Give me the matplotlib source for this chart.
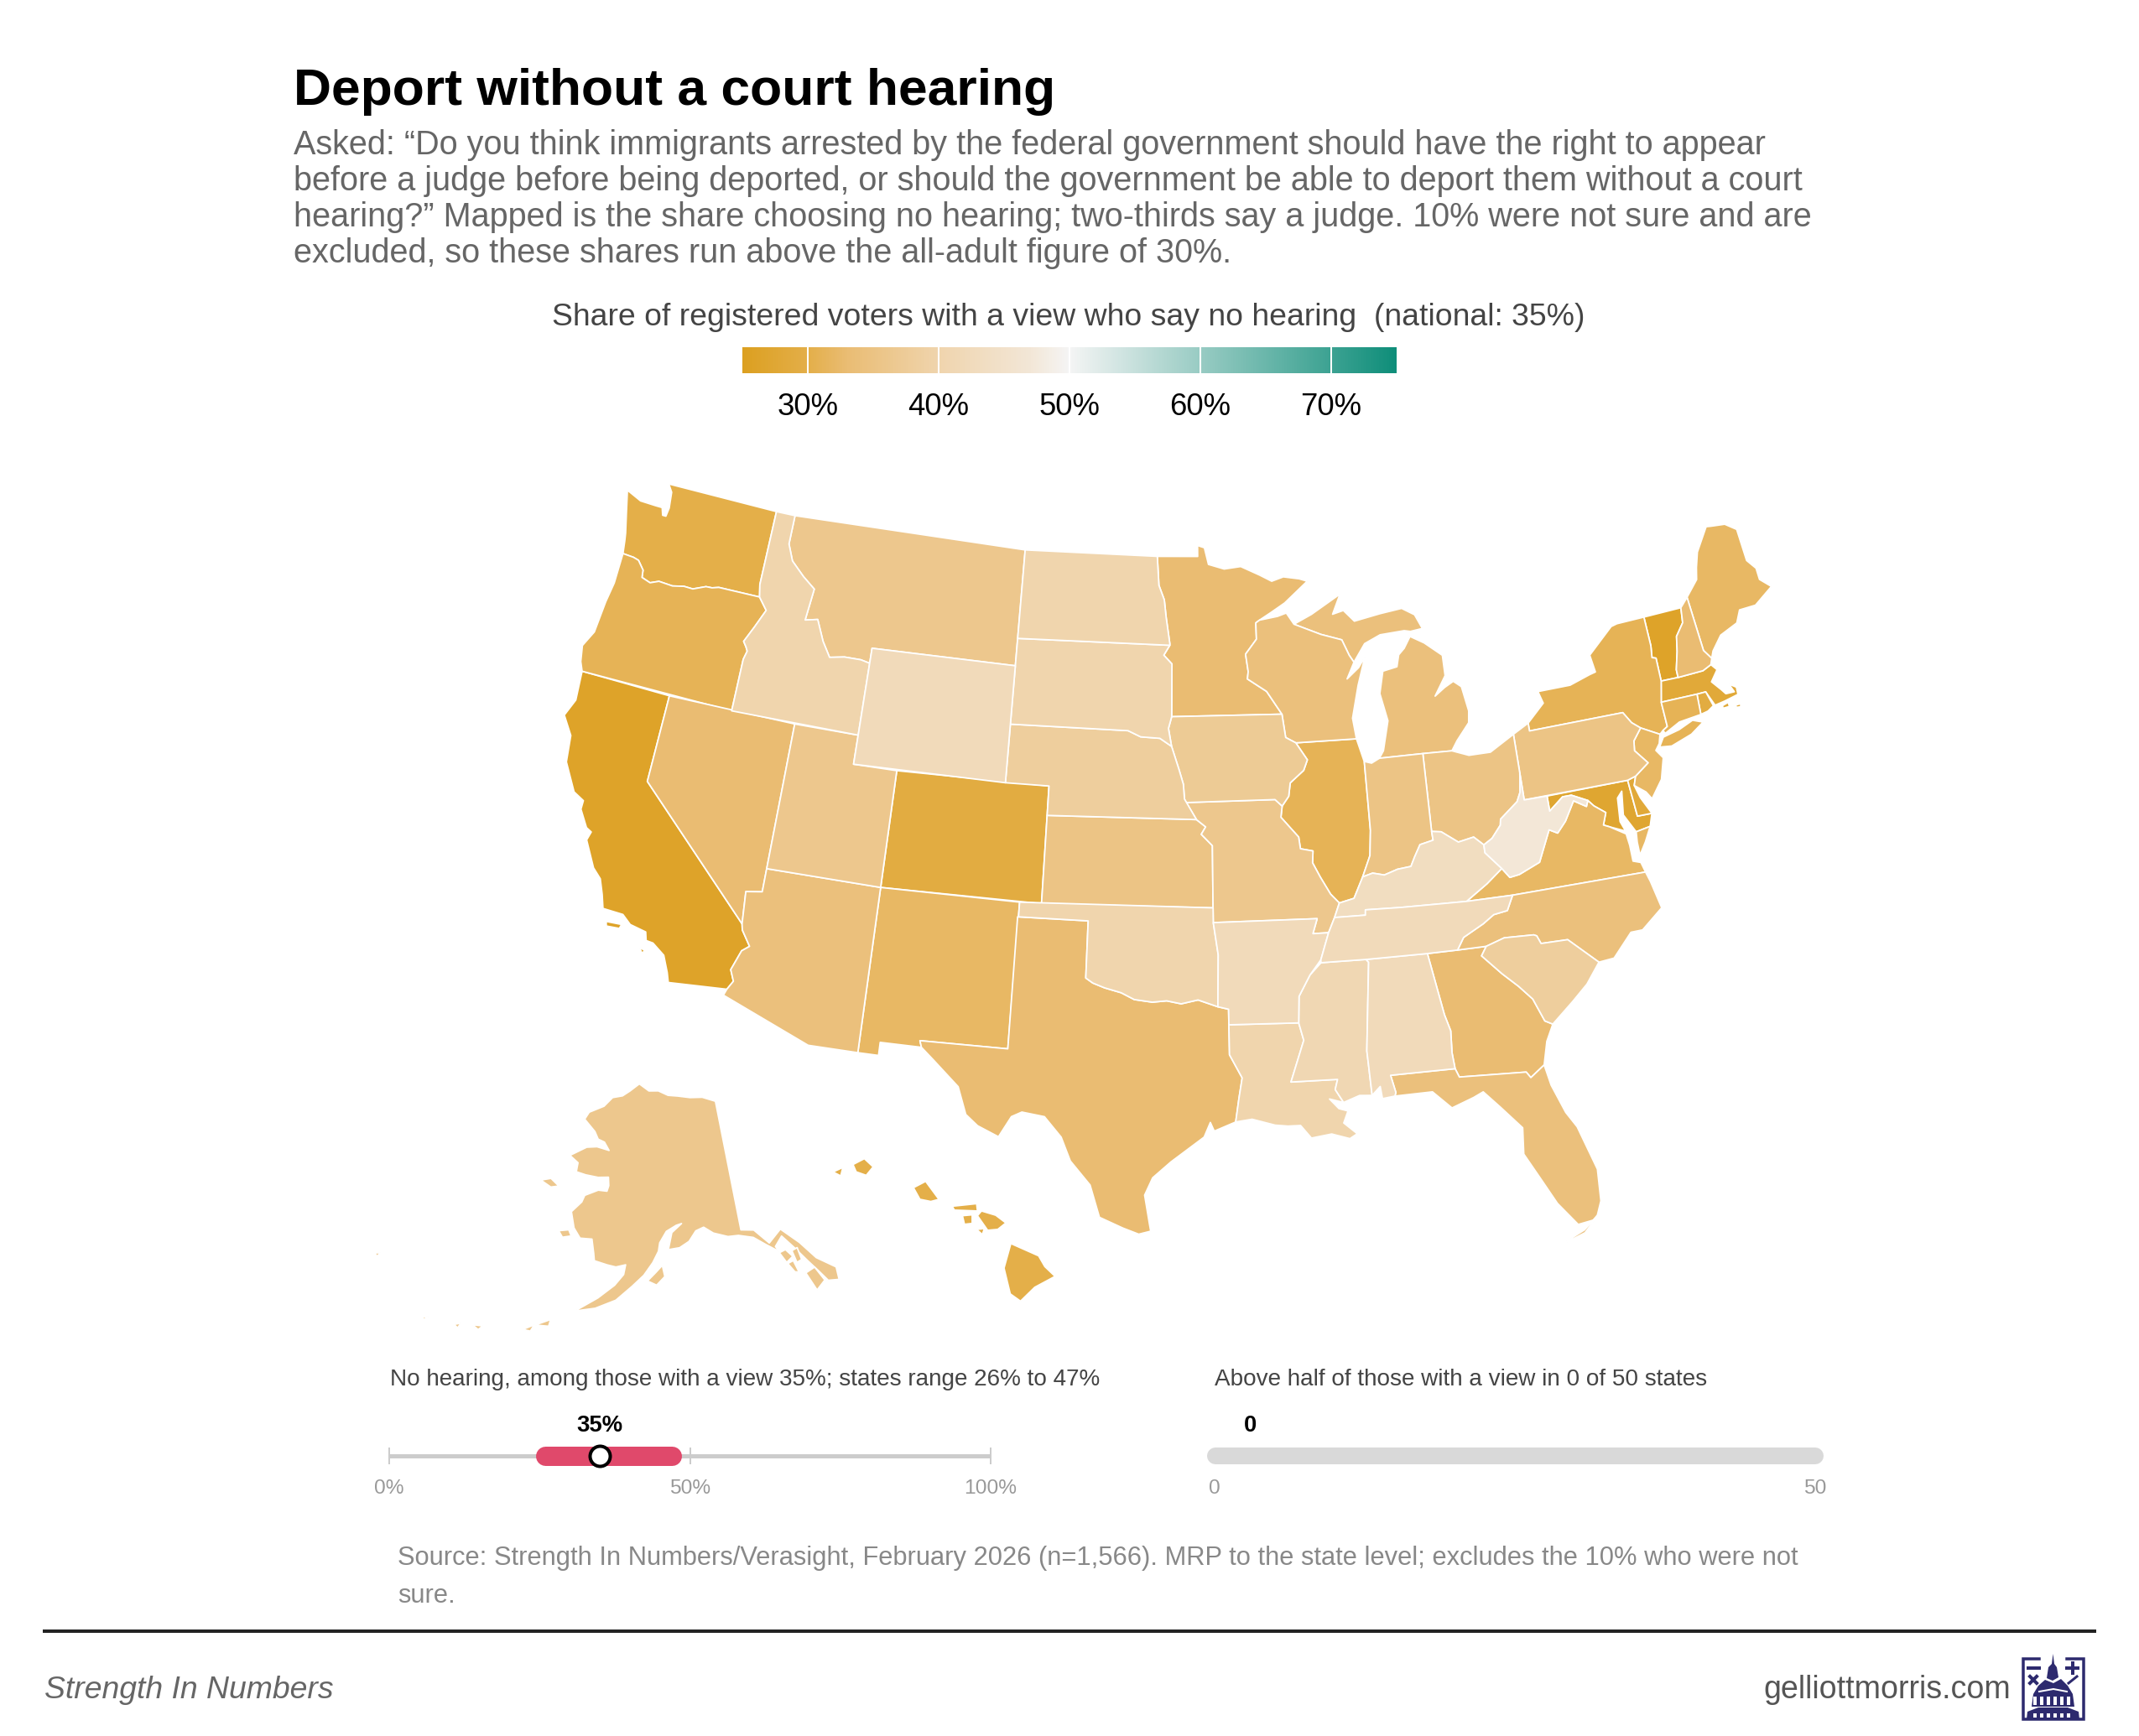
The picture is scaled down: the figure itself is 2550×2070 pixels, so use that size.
import numpy as np
import matplotlib
matplotlib.use("Agg")
import matplotlib.pyplot as plt
from matplotlib.colors import LinearSegmentedColormap, Normalize
from matplotlib.patches import Polygon, Rectangle

plt.rcParams["font.family"] = ["Liberation Sans", "DejaVu Sans"]

# state shares, % saying no hearing
state_codes = ["CA","VT","MD","MA","CO","WA","HI","RI","DE","OR","IL","NY","NM","ME","CT","NJ","VA",
               "MN","NV","TX","GA","MI","NH","NC","WI","AZ","FL","PA","OH","IN","KS","MO","UT","MT",
               "AK","IA","SC","NE","ID","SD","LA","ND","OK","MS","WY","AR","AL","KY","TN","WV"]
state_shares = [26,26,27,28,29,30,30,29,28,31,31,31,32,32,31,32,32,
                33,33,33,33,34,33,34,34,34,34,35,35,35,35,36,36,36,
                36,37,38,38,40,40,40,40,40,41,42,42,42,43,42,47]

# outlines, lon/lat
WA = [(-124.7,48.38),(-123.9,48.16),(-123.1,48.15),(-122.75,48.15),(-122.62,47.9),(-122.45,47.9),(-122.4,48.2),(-122.5,48.75),(-122.76,49),(-117.03,49),(-117.04,46.42),(-116.92,46),(-118.98,46),(-119.3,45.93),(-119.6,45.92),(-120.2,45.73),(-120.65,45.74),(-121.2,45.65),(-121.9,45.68),(-122.3,45.55),(-122.75,45.65),(-122.8,45.9),(-123.15,46.18),(-123.43,46.23),(-123.98,46.25),(-124.08,46.7),(-124.15,46.95),(-124.4,47.6)]
OR = [(-123.98,46.25),(-123.43,46.23),(-123.15,46.18),(-122.8,45.9),(-122.75,45.65),(-122.3,45.55),(-121.9,45.68),(-121.2,45.65),(-120.65,45.74),(-120.2,45.73),(-119.6,45.92),(-119.3,45.93),(-118.98,46),(-116.92,46),(-116.46,45.6),(-116.85,44.95),(-117.2,44.4),(-117.03,44.23),(-116.93,44.1),(-117.03,43.8),(-117.03,42),(-124.21,42),(-124.4,42.3),(-124.55,42.84),(-124.2,43.4),(-124.1,44.5),(-123.97,45.2)]
CA = [(-124.21,42),(-120,42),(-120,39),(-114.63,35),(-114.57,34.8),(-114.14,34.3),(-114.43,34.1),(-114.72,33.4),(-114.52,33.03),(-114.72,32.72),(-117.12,32.53),(-117.25,32.85),(-117.55,33.4),(-118.1,33.72),(-118.4,33.75),(-118.5,34.03),(-119.2,34.15),(-119.6,34.42),(-120.47,34.45),(-120.65,34.9),(-120.9,35.4),(-121.3,35.7),(-121.9,36.55),(-121.8,36.85),(-122.05,36.95),(-122.5,37.5),(-122.5,37.8),(-123,38),(-123.7,38.9),(-123.85,39.8),(-124.4,40.4),(-124.1,41)]
CA_ISLANDS = [[(-120.2,34.05),(-119.55,34.08),(-119.6,33.93),(-120.15,33.9)],[(-118.6,33.48),(-118.35,33.4),(-118.45,33.3)]]
NV = [(-120,42),(-114.04,42),(-114.05,36.2),(-114.74,36.1),(-114.63,35),(-120,39)]
ID = [(-117.03,49),(-116.05,49),(-116.05,48),(-115.7,47.45),(-115,47),(-114.35,46.65),(-114.5,45.55),(-113.9,45.65),(-113.45,44.95),(-113,44.45),(-112.3,44.55),(-111.5,44.55),(-111.05,44.48),(-111.05,42),(-117.03,42),(-117.03,43.8),(-116.93,44.1),(-117.03,44.23),(-117.2,44.4),(-116.85,44.95),(-116.46,45.6),(-116.92,46),(-117.04,46.42)]
MT = [(-116.05,49),(-104.05,49),(-104.05,45),(-111.05,45),(-111.05,44.48),(-111.5,44.55),(-112.3,44.55),(-113,44.45),(-113.45,44.95),(-113.9,45.65),(-114.5,45.55),(-114.35,46.65),(-115,47),(-115.7,47.45),(-116.05,48)]
WY = [(-111.05,45),(-104.05,45),(-104.05,41),(-111.05,41)]
UT = [(-114.04,42),(-111.05,42),(-111.05,41),(-109.05,41),(-109.05,37),(-114.05,37)]
AZ = [(-114.05,37),(-109.05,37),(-109.05,31.33),(-111.07,31.33),(-114.81,32.5),(-114.72,32.72),(-114.52,33.03),(-114.72,33.4),(-114.43,34.1),(-114.14,34.3),(-114.57,34.8),(-114.63,35),(-114.74,36.1),(-114.05,36.2)]
CO = [(-109.05,41),(-102.05,41),(-102.05,37),(-109.05,37)]
NM = [(-109.05,37),(-103,37),(-103.04,32),(-106.62,32),(-106.53,31.78),(-108.21,31.78),(-108.21,31.33),(-109.05,31.33)]
ND = [(-104.05,49),(-97.23,49),(-97.13,48),(-96.85,47.5),(-96.75,46.9),(-96.56,46),(-96.56,45.94),(-104.05,45.94)]
SD = [(-104.05,45.94),(-96.56,45.94),(-96.85,45.6),(-96.45,45.3),(-96.45,43.5),(-96.6,43.1),(-96.45,42.49),(-97,42.76),(-97.9,42.8),(-98.5,43),(-104.05,43)]
NE = [(-104.05,43),(-98.5,43),(-97.9,42.8),(-97,42.76),(-96.45,42.49),(-96.1,41.7),(-95.9,41.2),(-95.85,40.7),(-95.31,40),(-102.05,40),(-102.05,41),(-104.05,41)]
KS = [(-102.05,40),(-95.31,40),(-94.9,39.75),(-95.1,39.5),(-94.61,39.11),(-94.62,37),(-102.05,37)]
OK = [(-103,37),(-94.62,37),(-94.62,36.5),(-94.43,35.4),(-94.48,33.64),(-95.3,33.88),(-96,33.75),(-96.6,33.85),(-97.2,33.8),(-97.95,33.88),(-98.5,34.1),(-99.2,34.25),(-99.7,34.4),(-100,34.56),(-100,36.5),(-103,36.5)]
TX = [(-103.04,36.5),(-100,36.5),(-100,34.56),(-99.7,34.4),(-99.2,34.25),(-98.5,34.1),(-97.95,33.88),(-97.2,33.8),(-96.6,33.85),(-96,33.75),(-95.3,33.88),(-94.48,33.64),(-94.04,33.55),(-94.04,33.02),(-94.04,32),(-93.55,31.2),(-93.7,30.5),(-93.85,29.7),(-94.7,29.4),(-94.85,29.7),(-95.1,29.2),(-96.4,28.35),(-97.1,27.8),(-97.4,27.2),(-97.2,26.2),(-97.15,25.96),(-97.6,25.85),(-98.2,26.05),(-99.1,26.4),(-99.5,27.5),(-100.3,28.3),(-100.7,29.1),(-101.4,29.77),(-102.3,29.88),(-102.7,29.7),(-103.15,28.98),(-104,29.3),(-104.5,29.65),(-104.9,30.57),(-106,31.4),(-106.53,31.78),(-106.62,32),(-103.04,32)]
MN = [(-97.23,49),(-95.15,49),(-95.15,49.38),(-94.8,49.3),(-94.6,48.72),(-93.8,48.55),(-92.95,48.62),(-92,48.3),(-91.4,48.07),(-90.8,48.2),(-90,48.1),(-89.6,48),(-90.8,47.3),(-91.5,47),(-92.1,46.75),(-92.29,46.66),(-92.29,46.1),(-92.85,45.6),(-92.75,45),(-92.8,44.75),(-91.9,44.3),(-91.22,43.5),(-96.45,43.5),(-96.45,45.3),(-96.85,45.6),(-96.56,45.94),(-96.56,46),(-96.75,46.9),(-96.85,47.5),(-97.13,48)]
IA = [(-96.45,43.5),(-91.22,43.5),(-91.1,42.7),(-90.64,42.5),(-90.15,41.9),(-90.35,41.55),(-91,41.15),(-91.1,40.7),(-91.42,40.38),(-91.73,40.61),(-95.77,40.58),(-95.85,40.7),(-95.9,41.2),(-96.1,41.7),(-96.45,42.49),(-96.6,43.1)]
MO = [(-95.77,40.58),(-91.73,40.61),(-91.42,40.38),(-91.5,40),(-90.75,39.3),(-90.7,38.9),(-90.15,38.8),(-90.2,38.4),(-89.9,37.9),(-89.5,37.3),(-89.15,36.98),(-89.4,36.5),(-89.7,36),(-90.37,36),(-90.15,36.5),(-94.62,36.5),(-94.62,37),(-94.61,39.11),(-95.1,39.5),(-94.9,39.75),(-95.31,40)]
AR = [(-94.62,36.5),(-90.15,36.5),(-90.37,36),(-89.7,36),(-90.1,35.1),(-90.6,34.6),(-91.1,33.9),(-91.17,33),(-94.04,33.02),(-94.04,33.55),(-94.48,33.64),(-94.43,35.4)]
LA = [(-94.04,33.02),(-91.17,33),(-91,32.4),(-91.6,31),(-89.73,31),(-89.85,30.66),(-89.55,30.2),(-90.1,30.35),(-89.75,30),(-89.4,29.9),(-89.6,29.5),(-89.1,29.1),(-89.4,28.95),(-90.1,29.15),(-90.9,29.05),(-91.3,29.5),(-91.8,29.5),(-92.3,29.55),(-93.2,29.78),(-93.85,29.7),(-93.7,30.5),(-93.55,31.2),(-94.04,32)]
MS = [(-90.1,35),(-88.2,35),(-88.1,34.9),(-88.47,31.9),(-88.4,30.37),(-88.9,30.4),(-89.55,30.2),(-89.85,30.66),(-89.73,31),(-91.6,31),(-91,32.4),(-91.17,33),(-91.1,33.9),(-90.6,34.6)]
AL = [(-88.2,35),(-85.6,35),(-85.18,32.87),(-85,32.3),(-85.05,31.55),(-85,31),(-87.6,31),(-87.45,30.4),(-87.5,30.28),(-88,30.23),(-88.05,30.65),(-88.4,30.37),(-88.47,31.9),(-88.1,34.9)]
TN = [(-90.1,35.1),(-89.7,36),(-89.4,36.5),(-88.07,36.5),(-88.05,36.68),(-86.5,36.65),(-83.68,36.6),(-81.68,36.59),(-82,36.1),(-82.6,36.03),(-83.1,35.77),(-84,35.4),(-84.32,35),(-85.6,35),(-88.2,35),(-90.1,35)]
KY = [(-89.4,36.5),(-89.15,36.98),(-88.5,37.1),(-88.05,37.8),(-87.6,37.9),(-87.1,37.8),(-86.5,37.95),(-85.9,38),(-85.7,38.3),(-85.4,38.7),(-84.8,38.8),(-84.82,39.1),(-84.4,39.05),(-83.7,38.63),(-83,38.73),(-82.6,38.42),(-82.6,38.15),(-81.97,37.54),(-82.7,37.1),(-83.68,36.6),(-86.5,36.65),(-88.05,36.68),(-88.07,36.5)]
IL = [(-90.64,42.5),(-87.8,42.49),(-87.55,41.75),(-87.53,41.7),(-87.53,39.35),(-87.65,38.5),(-88.05,37.8),(-88.5,37.1),(-89.15,36.98),(-89.5,37.3),(-89.9,37.9),(-90.2,38.4),(-90.15,38.8),(-90.7,38.9),(-90.75,39.3),(-91.5,40),(-91.42,40.38),(-91.1,40.7),(-91,41.15),(-90.35,41.55),(-90.15,41.9)]
WI = [(-92.29,46.66),(-92.1,46.75),(-91.2,46.85),(-90.75,46.95),(-90.4,46.55),(-89.1,46.14),(-88.1,45.9),(-87.8,45.35),(-87.6,45.1),(-88,44.55),(-87.4,44.9),(-87.05,45.25),(-87.5,44.3),(-87.9,43.2),(-87.8,42.49),(-90.64,42.5),(-91.1,42.7),(-91.22,43.5),(-91.9,44.3),(-92.8,44.75),(-92.75,45),(-92.85,45.6),(-92.29,46.1)]
MI_LOWER = [(-86.82,41.76),(-84.8,41.76),(-83.45,41.73),(-83.15,42.05),(-82.5,42.6),(-82.42,43),(-82.6,43.85),(-82.95,44.07),(-83.4,43.9),(-83.9,43.65),(-83.3,44.3),(-83.3,45),(-84.1,45.5),(-84.75,45.78),(-85.1,45.4),(-85.4,45.2),(-85.55,44.8),(-86.25,44.7),(-86.5,43.95),(-86.25,43),(-86.6,42)]
MI_UPPER = [(-90.4,46.55),(-89.1,46.14),(-88.1,45.9),(-87.8,45.35),(-87.6,45.1),(-87,45.7),(-86.2,45.95),(-85,46),(-84.7,45.95),(-84.1,46),(-84.4,46.5),(-85,46.77),(-86.1,46.67),(-87.4,46.5),(-87.9,46.9),(-88.45,46.8),(-88,47.47),(-89.5,46.85)]
IN = [(-87.53,41.7),(-87.2,41.62),(-86.82,41.76),(-84.8,41.76),(-84.82,39.1),(-84.8,38.8),(-85.4,38.7),(-85.7,38.3),(-85.9,38),(-86.5,37.95),(-87.1,37.8),(-87.6,37.9),(-88.05,37.8),(-87.65,38.5),(-87.53,39.35)]
OH = [(-84.8,41.76),(-83.45,41.73),(-82.7,41.5),(-81.7,41.5),(-80.52,41.98),(-80.52,40.64),(-80.65,40),(-80.85,39.7),(-81.7,39.2),(-81.75,39),(-82.2,38.6),(-82.6,38.42),(-83,38.73),(-83.7,38.63),(-84.4,39.05),(-84.82,39.1)]
PA = [(-80.52,41.98),(-79.76,42.27),(-79.76,42),(-75.35,42),(-75.05,41.6),(-74.7,41.36),(-75.13,40.98),(-75.2,40.65),(-74.72,40.15),(-75.4,39.8),(-75.79,39.72),(-80.52,39.72),(-80.52,40.64)]
NY = [(-79.76,42.27),(-78.9,42.85),(-79.05,43.27),(-77.5,43.28),(-76.5,43.5),(-76.2,43.55),(-76.3,44.15),(-75,44.95),(-74.7,45),(-73.35,45.01),(-73.35,44),(-73.43,43.6),(-73.25,43.55),(-73.27,42.75),(-73.5,42.05),(-73.49,41.2),(-73.73,41.1),(-73.9,41),(-74.7,41.36),(-75.05,41.6),(-75.35,42),(-79.76,42)]
NY_LONG_ISLAND = [(-74.05,40.58),(-73.78,40.88),(-73,41),(-72.3,41.2),(-71.85,41.05),(-72.5,40.75),(-73.5,40.52)]
VT = [(-73.35,45.01),(-71.5,45.01),(-71.6,44.5),(-72.05,44.1),(-72.2,43.6),(-72.45,43),(-72.46,42.73),(-73.27,42.75),(-73.25,43.55),(-73.43,43.6),(-73.35,44)]
NH = [(-71.5,45.01),(-71.08,45.3),(-70.98,43.4),(-70.7,43.07),(-70.82,42.87),(-71.25,42.74),(-72.46,42.73),(-72.45,43),(-72.2,43.6),(-72.05,44.1),(-71.6,44.5)]
ME = [(-71.08,45.3),(-70.4,45.8),(-70.25,46.2),(-70,46.7),(-69.23,47.46),(-69,47.43),(-68.3,47.36),(-67.8,47.07),(-67.78,45.95),(-67.45,45.6),(-67.45,45.2),(-67,44.85),(-68,44.4),(-68.8,44.4),(-69.1,44),(-70,43.75),(-70.55,43.3),(-70.7,43.07),(-70.98,43.4)]
MA = [(-73.5,42.05),(-73.27,42.75),(-72.46,42.73),(-71.25,42.74),(-70.82,42.87),(-70.6,42.65),(-71,42.3),(-70.65,41.95),(-70.5,41.78),(-70.1,41.77),(-70.25,42.07),(-69.95,41.9),(-69.97,41.65),(-70.65,41.55),(-71.12,41.5),(-71.38,42.02),(-71.8,42.02)]
MA_ISLANDS = [[(-70.8,41.42),(-70.5,41.48),(-70.5,41.33),(-70.8,41.33)],[(-70.2,41.32),(-69.97,41.32),(-70,41.22),(-70.2,41.24)]]
RI = [(-71.8,42.02),(-71.38,42.02),(-71.2,41.5),(-71.5,41.37),(-71.86,41.32)]
CT = [(-73.5,42.05),(-71.8,42.02),(-71.86,41.32),(-72.9,41.25),(-73.65,40.99),(-73.73,41.1),(-73.49,41.2)]
NJ = [(-73.9,41),(-74.7,41.36),(-75.13,40.98),(-75.2,40.65),(-74.72,40.15),(-75.4,39.8),(-75.55,39.5),(-75.1,39.2),(-74.9,38.93),(-74.3,39.5),(-74,40.2),(-74.25,40.5),(-74.03,40.7)]
DE = [(-75.79,39.72),(-75.4,39.8),(-75.55,39.5),(-75.4,39.05),(-75.05,38.45),(-75.7,38.46)]
MD = [(-79.48,39.72),(-75.79,39.72),(-75.7,38.46),(-75.05,38.45),(-75.25,38.03),(-75.9,37.95),(-76.3,38.6),(-76.15,39.4),(-76.4,39.2),(-76.5,38.4),(-76.35,38.05),(-77,38.3),(-77.25,38.4),(-77.04,38.8),(-77.5,39.1),(-77.72,39.32),(-78.4,39.6),(-78.8,39.6),(-79.48,39.2)]
WV = [(-80.52,40.64),(-80.52,39.72),(-79.48,39.72),(-79.48,39.2),(-78.8,39.6),(-78.4,39.6),(-77.72,39.32),(-77.83,39.13),(-78.35,39.4),(-78.87,38.77),(-79.3,38.42),(-79.65,38.58),(-80.3,37.55),(-81.25,37.25),(-81.68,37.2),(-81.97,37.54),(-82.6,38.15),(-82.6,38.42),(-82.2,38.6),(-81.75,39),(-81.7,39.2),(-80.85,39.7),(-80.65,40)]
VA = [(-83.68,36.6),(-82.7,37.1),(-81.97,37.54),(-81.68,37.2),(-81.25,37.25),(-80.3,37.55),(-79.65,38.58),(-79.3,38.42),(-78.87,38.77),(-78.35,39.4),(-77.83,39.13),(-77.72,39.32),(-77.5,39.1),(-77.04,38.8),(-77.25,38.4),(-77,38.3),(-76.35,37.95),(-76.3,37.55),(-76.3,37),(-75.98,36.9),(-75.87,36.55),(-81.68,36.59)]
VA_SHORE = [(-75.9,37.95),(-75.25,38.03),(-75.6,37.55),(-75.95,37.15),(-75.95,37.6)]
NC = [(-84.32,35),(-84,35.4),(-83.1,35.77),(-82.6,36.03),(-82,36.1),(-81.68,36.59),(-75.87,36.55),(-75.75,36.2),(-75.52,35.25),(-76.5,34.65),(-77,34.65),(-77.9,33.9),(-78.55,33.86),(-79.67,34.8),(-80.8,34.82),(-80.93,35.1),(-81.05,35.15),(-82.3,35.2),(-83.1,35)]
SC = [(-83.1,35),(-82.3,35.2),(-81.05,35.15),(-80.93,35.1),(-80.8,34.82),(-79.67,34.8),(-78.55,33.86),(-79.2,33.2),(-79.9,32.7),(-80.85,32.05),(-81.15,32.2),(-81.5,33),(-82,33.5),(-82.6,34),(-83.35,34.7)]
GA = [(-85.6,35),(-84.32,35),(-83.1,35),(-83.35,34.7),(-82.6,34),(-82,33.5),(-81.5,33),(-81.15,32.2),(-80.85,32.05),(-81.2,31.5),(-81.45,30.72),(-82.05,30.36),(-82.2,30.57),(-84.87,30.7),(-85,31),(-85.05,31.55),(-85,32.3),(-85.18,32.87)]
FL = [(-87.6,31),(-85,31),(-84.87,30.7),(-82.2,30.57),(-82.05,30.36),(-81.45,30.72),(-81.3,30),(-80.9,29),(-80.55,28.45),(-80.05,26.9),(-80.12,25.8),(-80.4,25.2),(-81.1,25.12),(-81.75,25.95),(-82.2,26.8),(-82.75,27.8),(-82.65,28.7),(-83.4,29.5),(-84,30.1),(-84.4,29.95),(-85.3,29.68),(-86,30.3),(-87.5,30.28),(-87.45,30.4)]
FL_KEYS = [(-80.45,25.2),(-80.9,24.8),(-81.7,24.55),(-81.6,24.62),(-80.9,24.9),(-80.35,25.32)]
AK = [(-141,69.65),(-143.5,70.1),(-146,70.2),(-148.5,70.4),(-150.5,70.5),(-152.5,70.85),(-154.5,70.85),(-156.6,71.35),(-158.5,70.8),(-160,70.4),(-162,70.2),(-163.5,69.5),(-166.2,68.9),(-166.8,68.35),(-164.5,67.6),(-163.7,67.1),(-162.5,66.95),(-161.5,66.4),(-163.7,66.55),(-165.5,66.4),(-168.1,65.6),(-166.5,65.2),(-166.5,64.55),(-164.9,64.45),(-162.8,64.4),(-161.1,64.5),(-160.9,63.9),(-161.1,63.5),(-162.5,63.5),(-164.5,63),(-164.8,62.5),(-166.1,61.7),(-165.3,60.6),(-164.2,59.95),(-162.5,60),(-162,59),(-161.8,58.5),(-160,58.3),(-158.8,58.2),(-157.5,58.4),(-157.7,57.7),(-158.8,56.9),(-160.8,55.9),(-163.3,54.85),(-164.9,54.5),(-162.7,54.9),(-161,55.15),(-158.5,55.85),(-156.5,56.9),(-155,57.7),(-153.8,58.6),(-153,59.4),(-152.8,60),(-151.8,60.8),(-150.3,61.2),(-149.5,61.3),(-151,60.7),(-151.6,59.5),(-150,59.6),(-148.6,60),(-147.5,60.7),(-146.3,60.9),(-145,60.4),(-143,60),(-141.5,59.95),(-139.5,59.6),(-138,58.9),(-136.5,58.2),(-136.8,58.6),(-135.6,59.2),(-134.3,58.1),(-133.2,57),(-132.3,56.1),(-131.5,55.2),(-130.2,55),(-130,55.9),(-132,57),(-133.5,58.4),(-135.5,59.7),(-137.5,58.95),(-139.2,60.1),(-141,60.3)]
AK_ISLANDS = [[(-154.5,57.3),(-153.3,57),(-152.2,57.6),(-152.5,58.4),(-153.4,57.9)],
              [(-171.8,63.4),(-170.3,63.7),(-168.8,63.3),(-170,63.1)],
              [(-167.4,60.2),(-166,60.4),(-165.5,60),(-166.7,59.8)],
              [(-136.5,58.1),(-135.6,58.2),(-134.9,57.6),(-135.9,57.3)],
              [(-135.8,57.2),(-135,57.3),(-134.7,56.4),(-135.2,56.5)],
              [(-134.8,58.0),(-134,58.1),(-133.9,57.2),(-134.6,57.1)],
              [(-133.9,56.2),(-132.6,56.4),(-131.9,55.3),(-133.2,54.8)],
              [(-167.9,53.3),(-166.2,53.9),(-166.3,53.4)],[(-169.2,52.8),(-168,53.3),(-168.3,52.8)],
              [(-175,52.15),(-173.8,52.3),(-174.2,51.95)],[(-177,51.75),(-176.3,52),(-176.5,51.6)],
              [(179.3,51.4),(179.9,51.6),(179.6,51.3)],[(171,54),(171.6,54.2),(171.4,53.85)]]
HI = [[(-155.88,20.27),(-155.2,19.98),(-155.05,19.73),(-154.8,19.5),(-155.3,19.25),(-155.65,18.93),(-155.9,19.1),(-156.05,19.7)],
      [(-156.7,20.92),(-156.6,21.03),(-156.25,20.93),(-156,20.75),(-156.2,20.6),(-156.45,20.58)],
      [(-158.28,21.57),(-157.98,21.72),(-157.65,21.3),(-157.85,21.25),(-158.12,21.3)],
      [(-159.78,22.1),(-159.5,22.24),(-159.28,22.05),(-159.45,21.85),(-159.7,21.93)],
      [(-157.32,21.14),(-156.72,21.2),(-156.7,21.03),(-157.27,21.05)],
      [(-157.07,20.92),(-156.83,20.94),(-156.83,20.74),(-157.02,20.72)],
      [(-160.27,21.92),(-160.03,22.03),(-160.08,21.83)],
      [(-156.72,20.6),(-156.53,20.62),(-156.58,20.48)]]

state_shapes = {
    "WA":[WA],"OR":[OR],"CA":[CA]+CA_ISLANDS,"NV":[NV],"ID":[ID],"MT":[MT],"WY":[WY],"UT":[UT],"AZ":[AZ],"CO":[CO],
    "NM":[NM],"ND":[ND],"SD":[SD],"NE":[NE],"KS":[KS],"OK":[OK],"TX":[TX],"MN":[MN],"IA":[IA],"MO":[MO],"AR":[AR],
    "LA":[LA],"MS":[MS],"AL":[AL],"TN":[TN],"KY":[KY],"IL":[IL],"WI":[WI],"MI":[MI_LOWER,MI_UPPER],"IN":[IN],"OH":[OH],
    "PA":[PA],"NY":[NY,NY_LONG_ISLAND],"VT":[VT],"NH":[NH],"ME":[ME],"MA":[MA]+MA_ISLANDS,"RI":[RI],"CT":[CT],"NJ":[NJ],"DE":[DE],
    "MD":[MD],"WV":[WV],"VA":[VA,VA_SHORE],"NC":[NC],"SC":[SC],"GA":[GA],"FL":[FL,FL_KEYS],"AK":[AK]+AK_ISLANDS,"HI":HI,
}

legend_ticks = [30, 40, 50, 60, 70]
axis_ticks = [0, 50, 100]
national = 35
state_low, state_high = 26, 47


def fs(px):
    return px * 0.72


def conic(points, rotate, center, parallels, scale, tx, ty):
    # same maths as d3 geoConicEqualArea
    p0, p1 = np.radians(parallels)
    n = (np.sin(p0) + np.sin(p1)) / 2
    c = 1 + np.sin(p0) * (2 * n - np.sin(p0))
    r0 = np.sqrt(c) / n

    def raw(lon, lat):
        lon = ((lon + rotate + 180) % 360) - 180
        r = np.sqrt(c - 2 * n * np.sin(np.radians(lat))) / n
        return r * np.sin(np.radians(lon) * n), r0 - r * np.cos(np.radians(lon) * n)

    xc, yc = raw(rotate * -1 + center[0], center[1])
    pts = np.array(points, dtype=float)
    x, y = raw(pts[:, 0], pts[:, 1])
    return np.column_stack([tx + scale * (x - xc), ty - scale * (y - yc)])


K = 1995
TX_, TY_ = 1392, 1023


def project(code, poly):
    if code == "AK":
        return conic(poly, 154, (-2, 58.5), (55, 65), 960, 759, 1507)
    if code == "HI":
        return conic(poly, 157, (-3, 19.9), (8, 18), 2950, 1005, 1501)
    return conic(poly, 96, (-0.6, 38.7), (29.5, 45.5), K, TX_, TY_)


cmap = LinearSegmentedColormap.from_list("gold_teal", [
    (0.00, "#DCA021"), (0.10, "#E4AF4A"), (0.16, "#EABD74"), (0.30, "#F0D5AE"),
    (0.44, "#F3E7D7"), (0.50, "#F5F5F5"), (1.00, "#0F8E7A")])
norm = Normalize(25, 75)

fig = plt.figure(figsize=(25.5, 20.7), dpi=100, facecolor="white")
ax = fig.add_axes([0, 0, 1, 1])
ax.set_xlim(0, 2550)
ax.set_ylim(2070, 0)
ax.axis("off")

ax.text(350, 125, "Deport without a court hearing", fontsize=fs(62.4), fontweight="bold", color="black", va="baseline")
sub_lines = ["Asked: \u201cDo you think immigrants arrested by the federal government should have the right to appear",
             "before a judge before being deported, or should the government be able to deport them without a court",
             "hearing?\u201d Mapped is the share choosing no hearing; two-thirds say a judge. 10% were not sure and are",
             "excluded, so these shares run above the all-adult figure of 30%."]
for line, y in zip(sub_lines, [184, 227, 270, 313]):
    ax.text(350, y, line, fontsize=fs(39.6), color="#666666", va="baseline")

# colour legend
ax.text(1274, 388, "Share of registered voters with a view who say no hearing  (national: 35%)",
        fontsize=fs(37.4), color="#444444", ha="center", va="baseline")
grad = np.linspace(25, 75, 512).reshape(1, -1)
ax.imshow(grad, cmap=cmap, norm=norm, extent=(885, 1665, 445, 414), aspect="auto", zorder=1)
ax.set_xlim(0, 2550)
ax.set_ylim(2070, 0)
for t in legend_ticks:
    x = 885 + (t - 25) * 15.6
    ax.plot([x, x], [414, 445], color="white", lw=fs(2), zorder=2)
    ax.text(x, 495, f"{t}%", fontsize=fs(36.5), color="black", ha="center", va="baseline")

# states
for code, share in zip(state_codes, state_shares):
    for poly in state_shapes[code]:
        ax.add_patch(Polygon(project(code, poly), closed=True, facecolor=cmap(norm(share)),
                             edgecolor="white", linewidth=fs(1.8), joinstyle="round", zorder=3))

# bullet on the left
x0, x100 = 464, 1181
def pct_x(v):
    return x0 + (x100 - x0) * v / 100

ax.text(465, 1652, "No hearing, among those with a view 35%; states range 26% to 47%", fontsize=fs(27.9), color="#444444", va="baseline")
ax.text(1448, 1652, "Above half of those with a view in 0 of 50 states", fontsize=fs(27.9), color="#444444", va="baseline")
ax.plot([x0, x100], [1736, 1736], color="#CCCCCC", lw=fs(5), solid_capstyle="butt", zorder=2)
for t in axis_ticks:
    ax.plot([pct_x(t)] * 2, [1727, 1745], color="#CCCCCC", lw=fs(2), zorder=2)
    ax.text(pct_x(t), 1781, f"{t}%", fontsize=fs(24.5), color="#999999", ha="center", va="baseline")
ax.plot([pct_x(state_low), pct_x(state_high)], [1736, 1736], color="#E0496B", lw=fs(23), solid_capstyle="round", zorder=3)
ax.plot([pct_x(national)], [1736], "o", ms=fs(24), mfc="white", mec="black", mew=fs(4), zorder=4)
ax.text(pct_x(national), 1707, f"{national}%", fontsize=fs(27.5), fontweight="bold", color="black", ha="center", va="baseline")

# bar on the right
ax.plot([1449, 2164], [1736, 1736], color="#D9D9D9", lw=fs(20), solid_capstyle="round", zorder=2)
ax.text(1491, 1707, "0", fontsize=fs(27.5), fontweight="bold", color="black", ha="center", va="baseline")
ax.text(1448, 1781, "0", fontsize=fs(24.5), color="#999999", ha="center", va="baseline")
ax.text(2164, 1781, "50", fontsize=fs(24.5), color="#999999", ha="center", va="baseline")

ax.text(474, 1866, "Source: Strength In Numbers/Verasight, February 2026 (n=1,566). MRP to the state level; excludes the 10% who were not",
        fontsize=fs(30.9), color="#888888", va="baseline")
ax.text(474, 1911, "sure.", fontsize=fs(30.9), color="#888888", va="baseline")

ax.plot([51, 2499], [1945, 1945], color="#222222", lw=fs(4), solid_capstyle="butt")
ax.text(53, 2025, "Strength In Numbers", fontsize=fs(37.4), style="italic", color="#666666", va="baseline")
ax.text(2397, 2025, "gelliottmorris.com", fontsize=fs(37.6), color="#555555", ha="right", va="baseline")

# logo, capitol in a bracket
navy = "#2D2A6E"
ax.plot([2431, 2412, 2412, 2484, 2484, 2464], [1978, 1978, 2050, 2050, 1978, 1978], color=navy, lw=fs(3.5), solid_joinstyle="miter")
ax.add_patch(Polygon([(2416, 2050), (2417, 2041), (2430, 2036), (2465, 2036), (2478, 2041), (2479, 2050)], color=navy, lw=0))
ax.add_patch(Polygon([(2422, 2035), (2424, 2020), (2430, 2010), (2438, 2003), (2448, 2007), (2457, 2002), (2465, 2010), (2471, 2020), (2473, 2035)], color=navy, lw=0))
ax.plot([2431, 2448, 2464], [2017, 2014, 2017], color="white", lw=fs(2))
for x in range(2424, 2472, 8):
    ax.add_patch(Rectangle((x, 2023), 4, 10, color="white", lw=0))
for x in range(2424, 2472, 8):
    ax.add_patch(Rectangle((x, 2043), 4, 5, color="white", lw=0))
ax.add_patch(Polygon([(2447.5, 1972), (2449, 1984), (2452, 1988), (2454, 2000), (2447, 2004), (2440, 2001), (2442, 1988), (2446, 1984)], color=navy, lw=0))
ax.plot([2418, 2431], [1989, 1989], color=navy, lw=fs(4))
ax.plot([2464, 2477], [1989, 1989], color=navy, lw=fs(4))
ax.plot([2470.5, 2470.5], [1983, 1995], color=navy, lw=fs(4))
ax.plot([2420, 2428], [1999, 2007], color=navy, lw=fs(4))
ax.plot([2428, 2420], [1999, 2007], color=navy, lw=fs(4))
ax.plot([2466, 2476], [2007, 1999], color=navy, lw=fs(3))

fig.savefig("out.png", dpi=100, facecolor="white")
